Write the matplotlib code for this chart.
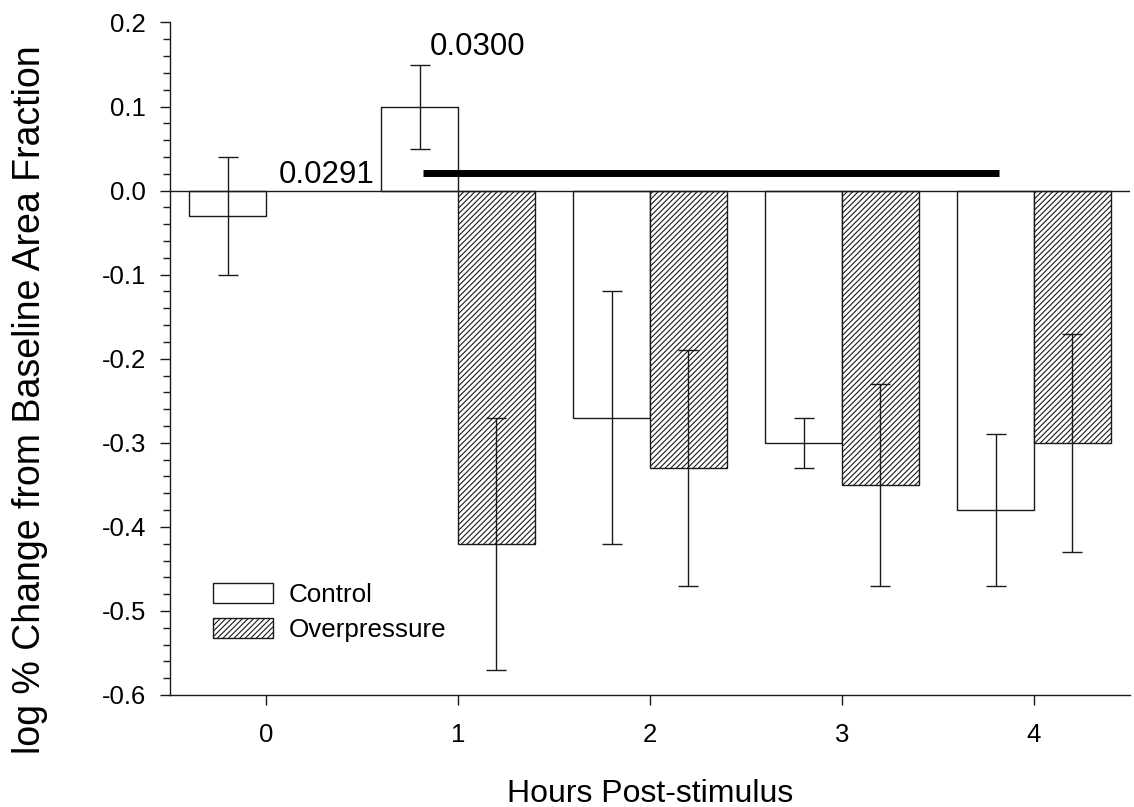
import numpy as np
import matplotlib
matplotlib.use("Agg")
import matplotlib.pyplot as plt
from matplotlib.ticker import MultipleLocator, FormatStrFormatter

# values
hours = [0, 1, 2, 3, 4]
control_mean = [-0.03, 0.10, -0.27, -0.30, -0.38]
control_err = [0.07, 0.05, 0.15, 0.03, 0.09]

op_hours = [1, 2, 3, 4]
op_mean = [-0.42, -0.33, -0.35, -0.30]
op_err = [0.15, 0.14, 0.12, 0.13]

sig_bar = (0.82, 3.82, 0.021)
p_labels = ["0.0291", "0.0300"]
p_pos = [(0.066, 0.009), (0.854, 0.161)]

plt.rcParams["font.family"] = ["Liberation Sans", "DejaVu Sans"]
plt.rcParams["hatch.linewidth"] = 0.8
plt.rcParams["hatch.color"] = "black"

fig = plt.figure(figsize=(11.34, 8.07), dpi=100)
ax = fig.add_axes([170 / 1134, 112 / 807, 960 / 1134, 672.5 / 807])

width = 0.4
err_kw = dict(elinewidth=1.0, capsize=7, capthick=1.0, ecolor="#1a1a1a")

ax.bar(np.array(hours) - width / 2, control_mean, width, yerr=control_err,
       color="white", edgecolor="#1a1a1a", linewidth=1.0, label="Control",
       error_kw=err_kw, zorder=2)
ax.bar(np.array(op_hours) + width / 2, op_mean, width, yerr=op_err,
       color="white", edgecolor="#1a1a1a", linewidth=1.0, hatch="//////",
       label="Overpressure", error_kw=err_kw, zorder=2)

ax.axhline(0, color="#1a1a1a", linewidth=1.0, zorder=3)
ax.plot([sig_bar[0], sig_bar[1]], [sig_bar[2], sig_bar[2]], color="black",
        linewidth=5, solid_capstyle="butt", zorder=4)

for txt, (x, y) in zip(p_labels, p_pos):
    ax.text(x, y, txt, fontsize=22.5, ha="left", va="baseline")

ax.set_xlim(-0.5, 4.5)
ax.set_ylim(-0.6, 0.2)
ax.set_xticks(hours)
ax.yaxis.set_major_locator(MultipleLocator(0.1))
ax.yaxis.set_minor_locator(MultipleLocator(0.02))
ax.yaxis.set_major_formatter(FormatStrFormatter("%.1f"))

for side in ["top", "right"]:
    ax.spines[side].set_visible(False)
for side in ["left", "bottom"]:
    ax.spines[side].set_linewidth(1.0)
    ax.spines[side].set_color("#1a1a1a")

ax.tick_params(axis="both", which="major", length=7.2, width=1.0,
               color="#1a1a1a", labelsize=18.5)
ax.tick_params(axis="x", which="major", pad=13)
ax.tick_params(axis="y", which="major", pad=10)
ax.tick_params(axis="y", which="minor", length=5, width=1.0, color="#1a1a1a")

ax.set_xlabel("Hours Post-stimulus", fontsize=23, labelpad=23)
ax.set_ylabel("log % Change from Baseline Area Fraction", fontsize=27)
ax.yaxis.set_label_coords(-0.127, 0.439)

ax.legend(loc="upper left", bbox_to_anchor=(0.045, 0.167), frameon=False,
          fontsize=18.7, handlelength=2.3, handleheight=0.8,
          handletextpad=0.6, labelspacing=0.45, borderpad=0,
          borderaxespad=0)

fig.savefig("out.png", dpi=100)
